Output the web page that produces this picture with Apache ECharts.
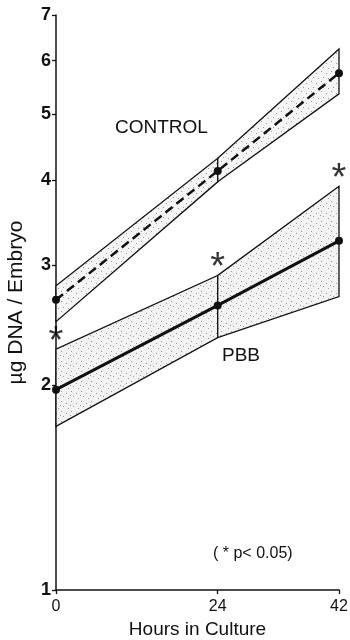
<!DOCTYPE html>
<html>
<head>
<meta charset="utf-8">
<script src="https://cdn.jsdelivr.net/npm/echarts@6/dist/echarts.min.js"></script>
<style>
html,body{margin:0;padding:0;background:#fff;}
#chart{width:350px;height:640px;}
</style>
</head>
<body>
<div id="chart"></div>
<script>
// ---- data ----
const hours = [0, 24, 42];
const controlMean = [2.67, 4.13, 5.75];
const controlLow = [2.48, 3.98, 5.36];
const controlHigh = [2.80, 4.31, 6.24];
const pbbMean = [1.97, 2.62, 3.26];
const pbbLow = [1.74, 2.35, 2.70];
const pbbHigh = [2.26, 2.90, 3.92];
const yTicks = [1, 2, 3, 4, 5, 6, 7];
const xTicks = [0, 24, 42];
const significantMark = ['*', '*', '*'];

const FONT = '"Liberation Sans", Arial, sans-serif';
const INK = '#111';

function stipple(dots, bg) {
  const c = document.createElement('canvas');
  c.width = 10; c.height = 10;
  const g = c.getContext('2d');
  g.fillStyle = bg; g.fillRect(0, 0, 10, 10);
  g.fillStyle = '#9a9a9a';
  dots.forEach(d => g.fillRect(d[0], d[1], 1, 1));
  return { image: c, repeat: 'repeat' };
}
const dotsA = [[1, 1], [6, 3], [3, 7], [8, 8]];
const dotsB = [[1, 1], [6, 3], [3, 6], [8, 8], [0, 5]];

function segments(lo, hi) {
  const out = [];
  for (let i = 0; i < hours.length - 1; i++) {
    out.push([hours[i], lo[i], hi[i], hours[i + 1], lo[i + 1], hi[i + 1]]);
  }
  return out;
}

function bandRender(fill) {
  return function (params, api) {
    const p = [
      api.coord([api.value(0), api.value(1)]),
      api.coord([api.value(0), api.value(2)]),
      api.coord([api.value(3), api.value(5)]),
      api.coord([api.value(3), api.value(4)])
    ];
    return {
      type: 'polygon',
      shape: { points: p },
      style: { fill: fill, stroke: INK, lineWidth: 1.3 }
    };
  };
}

const chart = echarts.init(document.getElementById('chart'), null, { renderer: 'canvas' });
chart.setOption({
  animation: false,
  backgroundColor: '#fff',
  grid: { left: 56, right: 11, top: 15, bottom: 50, containLabel: false, outerBoundsMode: 'none' },
  xAxis: {
    type: 'value', min: 0, max: 42,
    name: 'Hours in Culture', nameLocation: 'middle', nameGap: 28,
    nameTextStyle: { fontFamily: FONT, fontSize: 19, color: INK },
    axisLine: { show: true, lineStyle: { color: INK, width: 1.5 } },
    axisTick: { show: true, customValues: xTicks, length: 4, lineStyle: { color: INK, width: 1.3 } },
    axisLabel: { customValues: xTicks, fontFamily: FONT, fontSize: 16, color: INK, margin: 9 },
    splitLine: { show: false }
  },
  yAxis: {
    type: 'log', logBase: 10, min: 1, max: 7,
    name: 'µg DNA / Embryo', nameLocation: 'middle', nameGap: 29, nameRotate: 90,
    nameTextStyle: { fontFamily: FONT, fontSize: 21, color: INK },
    axisLine: { show: true, lineStyle: { color: INK, width: 1.5 } },
    axisTick: { show: true, customValues: yTicks, length: 4, lineStyle: { color: INK, width: 1.3 } },
    axisLabel: {
      show: true, customValues: yTicks, margin: 5,
      fontFamily: FONT, fontSize: 18, fontWeight: 'bold', color: INK
    },
    splitLine: { show: false },
    minorTick: { show: false }
  },
  graphic: [
    { type: 'text', left: 115, top: 118, style: { text: 'CONTROL', font: '19px ' + FONT, fill: INK } },
    { type: 'text', left: 222, top: 346, style: { text: 'PBB', font: '19px ' + FONT, fill: INK } },
    { type: 'text', left: 213, top: 546, style: { text: '( * p< 0.05)', font: '16px ' + FONT, fill: INK } }
  ],
  series: [
    {
      type: 'custom', name: 'control band', z: 1,
      data: segments(controlLow, controlHigh),
      encode: { x: [0, 3], y: [1, 2, 4, 5] },
      renderItem: bandRender(stipple(dotsA, '#f4f4f4'))
    },
    {
      type: 'custom', name: 'pbb band', z: 1,
      data: segments(pbbLow, pbbHigh),
      encode: { x: [0, 3], y: [1, 2, 4, 5] },
      renderItem: bandRender(stipple(dotsB, '#f2f2f2'))
    },
    {
      type: 'line', name: 'CONTROL', z: 3,
      data: hours.map((h, i) => [h, controlMean[i]]),
      symbol: 'circle', symbolSize: 8,
      itemStyle: { color: INK },
      lineStyle: { color: INK, width: 2.5, type: [9, 5] }
    },
    {
      type: 'line', name: 'PBB', z: 3,
      data: hours.map((h, i) => [h, pbbMean[i]]),
      symbol: 'circle', symbolSize: 8,
      itemStyle: { color: INK },
      lineStyle: { color: INK, width: 3 }
    },
    {
      type: 'scatter', name: 'significance', z: 4,
      data: hours.map((h, i) => [h, pbbHigh[i]]),
      symbolSize: 0,
      label: {
        show: true, position: 'top', distance: -12,
        formatter: p => significantMark[p.dataIndex],
        fontFamily: FONT, fontSize: 38, color: '#000'
      }
    }
  ]
});
</script>
</body>
</html>
